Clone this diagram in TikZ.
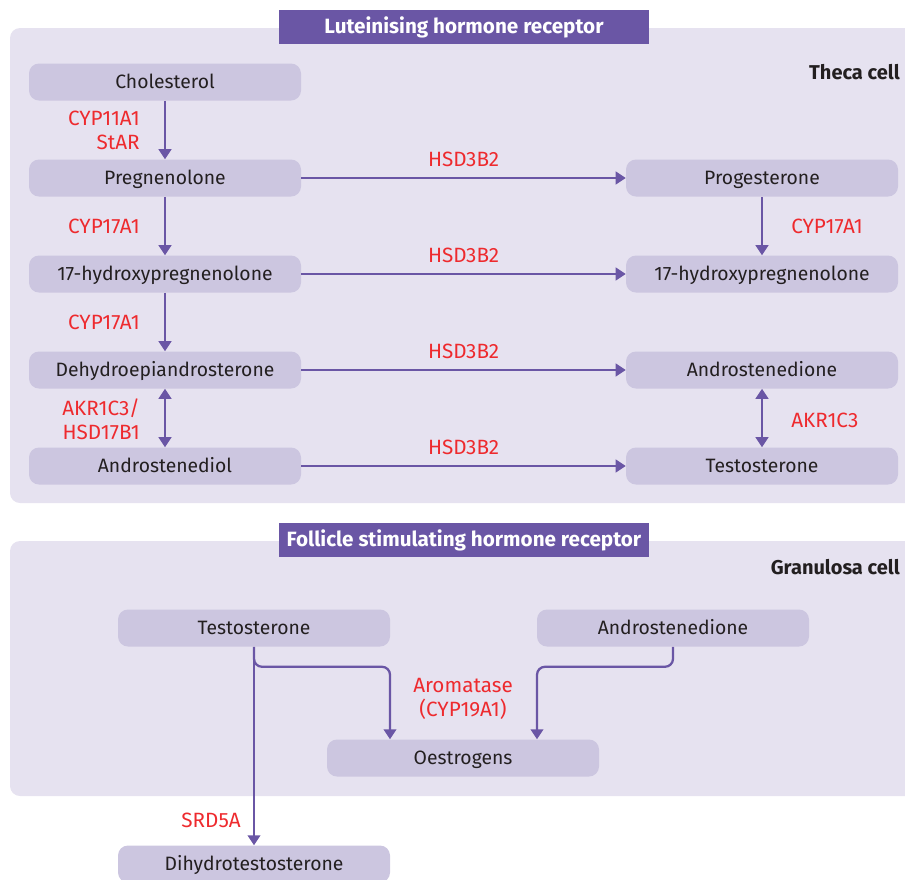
\documentclass[tikz,border=0pt]{standalone}
\usepackage{fontspec}
\setmainfont{Fira Sans}
\usetikzlibrary{arrows.meta,positioning}
\definecolor{bmjpurple}{HTML}{6A56A5}
\definecolor{panelbg}{HTML}{E6E2F0}
\definecolor{boxbg}{HTML}{CCC6E0}
\definecolor{enzred}{HTML}{EE2A2E}
\definecolor{txt}{HTML}{231F20}

\begin{document}
\begin{tikzpicture}[x=0.75pt,y=-0.75pt,
    mol/.style={fill=boxbg, rounded corners=7.5pt, minimum width=204pt, minimum height=27.75pt, inner sep=0pt, text height=12pt, text depth=3pt, text=txt, font=\fontsize{14.5}{17}\selectfont},
    enz/.style={text=enzred, font=\fontsize{15.5}{18}\selectfont, inner sep=0pt, align=right},
    head/.style={fill=bmjpurple, text=white, font=\bfseries\fontsize{15.5}{18}\selectfont, minimum width=277.5pt, minimum height=25.5pt, inner sep=0pt, text height=12pt, text depth=3pt},
    cell/.style={text=txt, font=\bfseries\fontsize{15}{18}\selectfont, anchor=east, inner sep=0pt},
    flow/.style={draw=bmjpurple, line width=1.7pt, -{Triangle[width=9.5pt,length=7.5pt]}},
    both/.style={flow, {Triangle[width=9.5pt,length=7.5pt]}-{Triangle[width=9.5pt,length=7.5pt]}}
  ]
  \useasboundingbox (0,0) rectangle (905,879);

  % Theca cell panel
  \fill[panelbg, rounded corners=7.5pt] (10,28) rectangle (925,503);
  \node[head] (lhr) at (464,27) {Luteinising hormone receptor};
  \node[cell] (theca) at (900,72) {Theca cell};

  % left column
  \node[mol] (chol) at (165,82) {Cholesterol};
  \node[mol] (preg) at (165,178) {Pregnenolone};
  \node[mol] (ohpreg) at (165,274) {17-hydroxypregnenolone};
  \node[mol] (dhea) at (165,370) {Dehydroepiandrosterone};
  \node[mol] (adiol) at (165,466) {Androstenediol};

  % right column
  \node[mol] (prog) at (762,178) {Progesterone};
  \node[mol] (ohprog) at (762,274) {17-hydroxypregnenolone};
  \node[mol] (adione) at (762,370) {Androstenedione};
  \node[mol] (testo) at (762,466) {Testosterone};

  \draw[flow] (chol) -- (preg);
  \draw[flow] (preg) -- (ohpreg);
  \draw[flow] (ohpreg) -- (dhea);
  \draw[both] (dhea) -- (adiol);
  \draw[flow] (prog) -- (ohprog);
  \draw[both] (adione) -- (testo);

  \draw[flow] (preg) -- (prog) node[enz, midway, above=7.5pt] (hsd1) {HSD3B2};
  \draw[flow] (ohpreg) -- (ohprog) node[enz, midway, above=7.5pt] (hsd2) {HSD3B2};
  \draw[flow] (dhea) -- (adione) node[enz, midway, above=7.5pt] (hsd3) {HSD3B2};
  \draw[flow] (adiol) -- (testo) node[enz, midway, above=7.5pt] (hsd4) {HSD3B2};

  \node[enz, anchor=east] (cyp11) at (140,130) {CYP11A1\\StAR};
  \node[enz, anchor=east] (cyp17a) at (140,226) {CYP17A1};
  \node[enz, anchor=east] (cyp17b) at (140,322) {CYP17A1};
  \node[enz, anchor=east] (akrhsd) at (140,419) {AKR1C3/\\HSD17B1};
  \node[enz, anchor=west] (cyp17c) at (791,226) {CYP17A1};
  \node[enz, anchor=west] (akr) at (791,420) {AKR1C3};

  % Granulosa cell panel
  \fill[panelbg, rounded corners=7.5pt] (10,541) rectangle (925,796);
  \node[head] (fshr) at (464,540) {Follicle stimulating hormone receptor};
  \node[cell] (gran) at (900,567) {Granulosa cell};

  \node[mol] (gtesto) at (254,628) {Testosterone};
  \node[mol] (gadione) at (673,628) {Androstenedione};
  \node[mol] (oest) at (463,758) {Oestrogens};
  \node[mol] (dht) at (254,864) {Dihydrotestosterone};

  \draw[flow] (gtesto) -- (dht);
  \draw[flow, rounded corners=6pt] (gtesto.south) -- ++(0,20) -| ([xshift=-54.75pt]oest.north);
  \draw[flow, rounded corners=6pt] (gadione.south) -- ++(0,20) -| ([xshift=55.5pt]oest.north);

  \node[enz, align=center] (arom) at (463,699) {Aromatase\\(CYP19A1)};
  \node[enz, anchor=east] (srd) at (241,820) {SRD5A};

\end{tikzpicture}
\end{document}
